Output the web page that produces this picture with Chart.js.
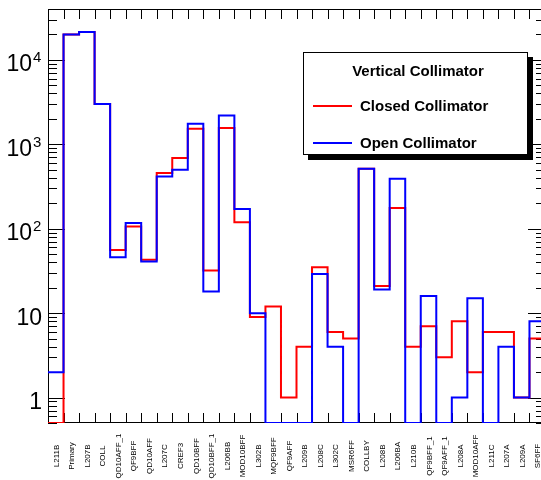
<!DOCTYPE html>
<html>
<head>
<meta charset="utf-8">
<script src="https://cdn.jsdelivr.net/npm/chart.js@4.4.0/dist/chart.umd.min.js"></script>
<style>
html,body{margin:0;padding:0;overflow:hidden;background:#fff;width:541px;height:480px}
#wrap{position:absolute;left:0;top:0;width:548px;height:480px}
</style>
</head>
<body>
<div id="wrap"><canvas id="c" width="548" height="480"></canvas></div>
<script>
// ---- data ----
const categories = ['L211B','Primary','L207B','COLL','QD10AFF_1','QF9BFF','QD10AFF','L207C','CREF3','QD10BFF',
  'QD10BFF_1','L206BB','MOD10BFF','L302B','MQF9BFF','QF9AFF','L209B','L208C','L302C','MSR6FF',
  'COLLBY','L208B','L206BA','L210B','QF9BFF_1','QF9AFF_1','L208A','MOD10AFF','L211C','L207A','L209A','SF6FF'];
const closedCollimator = [0,19900,21300,3000,56,106,43,456,686,1524,
  32,1555,119,9,12,1,4,35,6,5,
  513,21,176,4,7,3,8,2,6,6,1,5];
const openCollimator = [2,19900,21300,3000,46,117,41,416,499,1749,
  18,2193,171,10,0,0,0,29,4,0,
  513,19,391,0,16,0,1,15,0,4,1,8];
const seriesNames = ['Closed Collimator','Open Collimator'];
const legendTitle = 'Vertical Collimator';
const yTickValues = [1,10,100,1000,10000];
const yTickBase = ['1','10','10','10','10'];
const yTickExp = ['','','2','3','4'];
const Y_MIN = 0.5, Y_MAX = 40000;

// histogram outline: one point per bin low edge + closing edge; empty bins sit on the axis floor
function stepPoints(vals){
  const pts = vals.map((v,i)=>({x:i, y: v>0 ? v : Y_MIN}));
  const last = vals[vals.length-1];
  pts.push({x: vals.length, y: last>0 ? last : Y_MIN});
  return pts;
}

const FONT = '"Liberation Sans", Arial, Helvetica, sans-serif';

const rootFrame = {
  id:'rootFrame',
  beforeDatasetsDraw(chart){
    const {ctx, chartArea:a, scales:{x,y}} = chart;
    ctx.save();
    ctx.strokeStyle = '#000';
    ctx.lineWidth = 1;
    // frame
    ctx.strokeRect(Math.round(a.left)+0.5, Math.round(a.top)+0.5,
      Math.round(a.right-a.left)-1, Math.round(a.bottom-a.top)-1);
    // y ticks (log, inward, both sides)
    ctx.beginPath();
    for(let e=-1;e<=5;e++){
      for(let d=1;d<=9;d++){
        const v = d*Math.pow(10,e);
        if(v < Y_MIN*0.999 || v > Y_MAX*1.001) continue;
        const py = Math.round(y.getPixelForValue(v))+0.5;
        const len = d===1 ? 17 : 9;
        ctx.moveTo(a.left, py); ctx.lineTo(a.left+len, py);
        ctx.moveTo(a.right, py); ctx.lineTo(a.right-len, py);
      }
    }
    // x ticks at bin edges, inward, bottom and top
    for(let i=0;i<=categories.length;i++){
      const px = Math.round(x.getPixelForValue(i))+0.5;
      ctx.moveTo(px, a.bottom); ctx.lineTo(px, a.bottom-10);
      ctx.moveTo(px, a.top); ctx.lineTo(px, a.top+10);
    }
    ctx.stroke();

    // x labels: vertical, centred
    ctx.fillStyle = '#000';
    ctx.font = '8px ' + FONT;
    ctx.textAlign = 'center';
    ctx.textBaseline = 'middle';
    categories.forEach((c,i)=>{
      const cx = x.getPixelForValue(i+0.5);
      ctx.save();
      ctx.translate(Math.round(cx)+0.5, a.bottom+33);
      ctx.rotate(-Math.PI/2);
      ctx.fillText(c, 0, 0);
      ctx.restore();
    });

    // y labels
    ctx.textBaseline = 'alphabetic';
    yTickValues.forEach((v,i)=>{
      const py = y.getPixelForValue(v);
      if(yTickExp[i]){
        ctx.font = '23px ' + FONT;
        ctx.textAlign = 'right';
        ctx.fillText(yTickBase[i], a.left-16, py+11.5);
        ctx.font = '15px ' + FONT;
        ctx.textAlign = 'left';
        ctx.fillText(yTickExp[i], a.left-15, py+2.5);
      } else {
        ctx.font = '23px ' + FONT;
        ctx.textAlign = 'right';
        ctx.fillText(yTickBase[i], a.left-6, py+11.5);
      }
    });
    ctx.restore();
  },
  afterDraw(chart){
    const {ctx} = chart;
    const L=303, T=52, R=528, B=155, sh=5;
    ctx.save();
    ctx.fillStyle = '#000';
    ctx.fillRect(L+sh, T+sh, R-L, B-T);
    ctx.fillStyle = '#fff';
    ctx.fillRect(L, T, R-L, B-T);
    ctx.strokeStyle = '#000';
    ctx.lineWidth = 1;
    ctx.strokeRect(L+0.5, T+0.5, R-L-1, B-T-1);
    ctx.fillStyle = '#000';
    ctx.font = 'bold 15px ' + FONT;
    ctx.textAlign = 'center';
    ctx.textBaseline = 'alphabetic';
    ctx.fillText(legendTitle, 418, 76);
    const ds = chart.data.datasets;
    const rows = [106, 143];
    ds.forEach((d,i)=>{
      ctx.strokeStyle = d.borderColor;
      ctx.lineWidth = 2;
      ctx.beginPath();
      ctx.moveTo(313, rows[i]); ctx.lineTo(352, rows[i]);
      ctx.stroke();
      ctx.fillStyle = '#000';
      ctx.textAlign = 'left';
      ctx.fillText(d.label, 360, rows[i]+5);
    });
    ctx.restore();
  }
};

new Chart(document.getElementById('c'), {
  type:'line',
  data:{
    datasets:[
      {label: seriesNames[0], data: stepPoints(closedCollimator), borderColor:'#ff0000',
       borderWidth:2, stepped:true, pointRadius:0, fill:false, order:1},
      {label: seriesNames[1], data: stepPoints(openCollimator), borderColor:'#0000ff',
       borderWidth:2, stepped:true, pointRadius:0, fill:false, order:0}
    ]
  },
  options:{
    responsive:false,
    devicePixelRatio:1,
    animation:false,
    layout:{padding:{left:48, right:3, top:9, bottom:57}},
    scales:{
      x:{type:'linear', min:0, max:categories.length, display:false},
      y:{type:'logarithmic', min:Y_MIN, max:Y_MAX, display:false}
    },
    plugins:{legend:{display:false}, tooltip:{enabled:false}}
  },
  plugins:[rootFrame]
});
</script>
</body>
</html>
